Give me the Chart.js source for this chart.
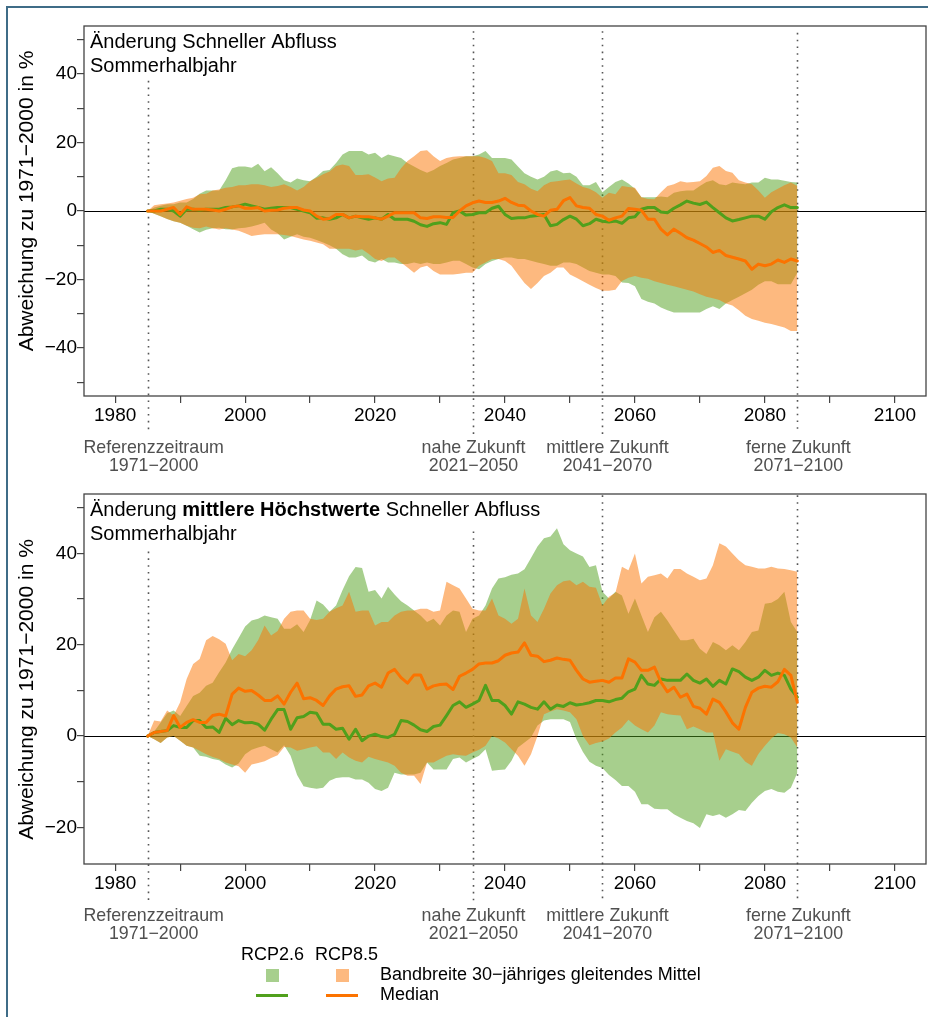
<!DOCTYPE html>
<html lang="de">
<head>
<meta charset="UTF-8">
<title>Änderung Schneller Abfluss – Sommerhalbjahr</title>
<script src="https://cdn.jsdelivr.net/npm/chart.js"></script>
<style>
  body { margin: 0; background: #fff; font-family: 'Liberation Sans', Arial, sans-serif; }
  #page { position: relative; width: 928px; height: 1017px; overflow: hidden; background: #fff; }
  .frame { position: absolute; left: 6px; top: 6px; width: 960px; height: 1060px;
           border-left: 2.5px solid #3f6c87; border-top: 2px solid #3f6c87; }
  canvas { position: absolute; left: 0; }
  #chartTop { top: 0; }
  #chartBottom { top: 480px; }
  .lg { position: absolute; font-size: 18px; line-height: 1; color: #000; white-space: nowrap; }
  .sq { position: absolute; width: 13px; height: 13px; }
  .ln { position: absolute; width: 32px; height: 3px; }
</style>
</head>
<body>
<div id="page">
  <div class="frame"></div>
  <canvas id="chartTop" width="928" height="480"></canvas>
  <canvas id="chartBottom" width="928" height="468"></canvas>

  <div class="lg" style="left:241px; top:945.4px;">RCP2.6</div>
  <div class="lg" style="left:315px; top:945.4px;">RCP8.5</div>
  <div class="sq" style="left:266px; top:969px; background:rgba(80,160,28,0.5);"></div>
  <div class="sq" style="left:336px; top:969px; background:rgba(252,115,0,0.5);"></div>
  <div class="lg" style="left:380px; top:965.4px;">Bandbreite 30−jähriges gleitendes Mittel</div>
  <div class="ln" style="left:256px; top:993.5px; background:#50a01c;"></div>
  <div class="ln" style="left:326px; top:993.5px; background:#fc7300;"></div>
  <div class="lg" style="left:380px; top:985.4px;">Median</div>
</div>

<script>
// ---- data: 30-year moving windows, centre years 1985 .. 2085 ----
const firstYear = 1985;
const lastYear = 2085;

const xTicks = [1980, 1990, 2000, 2010, 2020, 2030, 2040, 2050, 2060, 2070, 2080, 2090, 2100];
const yTicksTop = [-50, -40, -30, -20, -10, 0, 10, 20, 30, 40, 50];
const yTicksBottom = [-20, -10, 0, 10, 20, 30, 40, 50];

const periodYears = [1985, 2035, 2055, 2085];
const periodNames = ['Referenzzeitraum', 'nahe Zukunft', 'mittlere Zukunft', 'ferne Zukunft'];
const periodRanges = ['1971−2000', '2021−2050', '2041−2070', '2071−2100'];

const yTitle = 'Abweichung zu 1971−2000 in %';

// Schneller Abfluss, Sommerhalbjahr
const rcp26LowTop = [0, -0.8, -1.5, -2.3, -3, -3.4, -4.3, -5.3, -6.3, -5.5, -5, -4.9, -5.3, -5.4, -5, -4.9,
  -4.5, -4, -3.4, -5.4, -6.5, -8.3, -7.5, -6.8, -7.5, -7.8, -8.5, -9.2, -10, -11, -12.6, -13.6, -13.6,
  -13, -14.5, -15, -14, -15, -15, -15.5, -15.5, -15, -15.5, -15, -15.5, -15.5, -15, -14.5, -14.5, -15.5,
  -16.5, -17, -15.5, -14.6, -14, -13.6, -13.6, -14, -14, -14.5, -15, -15.5, -16, -16, -15, -15, -15.5,
  -16.5, -17.5, -18, -18.5, -18.5, -19, -20.9, -21, -22, -25.7, -26.5, -27, -28.2, -29, -29.6, -29.6,
  -29.6, -29.6, -29.6, -28.6, -27.8, -28.6, -27, -26, -25, -24, -23, -21.5, -20.5, -20.5, -21.4, -21.4,
  -21.4, -18];
const rcp26HighTop = [0, 1, 1.5, 2, 2, 2.5, 2.5, 3.5, 5, 6, 6, 6, 9, 12.5, 13, 13, 12.6, 13.8, 11.6, 12.8,
  11, 9, 8.3, 9.5, 9, 8.7, 10, 11.7, 12, 14, 16.5, 17.5, 17.5, 17.5, 16.5, 17, 15.5, 16.5, 16, 15.5, 14,
  13, 12, 11.2, 12, 13.1, 14, 15, 15.5, 16, 16, 16.5, 17.5, 15.5, 15.5, 15.5, 15, 13, 11, 10, 9.2, 10,
  11.5, 12, 11, 11.2, 10, 7.5, 7.5, 8.5, 5.5, 7, 8.5, 9.2, 8, 6.5, 4, 4, 4, 4.2, 4, 5.3, 5.8, 6, 6, 7.3,
  8.5, 9, 7.8, 7.5, 8.3, 8, 7.8, 8.3, 8.3, 9.7, 9.2, 9.2, 8.8, 8.5, 8.3];
const rcp26MedTop = [0, 0, 0.5, 0.5, 0, -1.5, 0.5, 0.5, 0.3, 0.5, 0.5, 0.5, 1, 1.2, 1.5, 2, 1.5, 1, 0.5,
  0.8, 1, 1, 1, 0.5, 0, -0.5, -2.1, -2, -2.4, -2, -1, -2, -1.5, -2, -2.4, -2, -2.4, -1, -2.4, -2.4, -2.4,
  -3, -4, -4.5, -3.7, -3.4, -3.9, -0.5, 0, -1.2, -1, -0.5, -0.5, 0.8, 1.4, -1, -2.2, -2, -2, -1.5, -1.3,
  -1, -4.3, -3.9, -2.5, -1.5, -2.4, -4.3, -3.7, -2.4, -3, -3.2, -2.9, -3.6, -2, -1.7, 0.5, 1, 1, -0.3,
  -0.5, 0.8, 1.8, 2.9, 2.3, 1.9, 2.6, 1, -0.5, -2, -2.9, -2.5, -2, -1.5, -1.5, -2.4, -0.2, 1, 1.8, 1, 1];
const rcp85LowTop = [0, -0.8, -1.5, -2.3, -3, -3.4, -4.3, -4.9, -5, -4.5, -5, -5.4, -5, -5.4, -5.8, -6.5,
  -7.3, -7, -6.8, -6.8, -6.8, -7, -7.3, -7.8, -8.3, -8.7, -9.2, -9.7, -11, -11, -11, -11, -11.5, -11.2,
  -12.5, -14, -14.6, -13.6, -13.6, -15, -16.5, -18, -16.5, -16, -17.5, -18.5, -18.5, -18.5, -18.3, -18,
  -18, -16, -15, -14, -14, -14.6, -16, -18.5, -21, -22.8, -21, -19, -18, -16.5, -16.5, -18.5, -19.5,
  -20.5, -21.5, -22.5, -23.3, -23.3, -23, -20.4, -19.5, -19, -19.5, -19.8, -20.5, -21, -21.5, -22, -22.5,
  -23, -23.5, -24.3, -25, -25.5, -26, -27, -27.6, -29, -30.6, -31.5, -32, -32.6, -33, -33.5, -34, -35, -35];
const rcp85HighTop = [0, 1.7, 2, 2.2, 2.5, 3, 3.5, 3.9, 4.9, 5, 6, 6.3, 6.8, 7, 7.5, 7.5, 7.8, 7.8, 7.5,
  7, 7.3, 7.8, 7, 6, 7, 8.7, 9.7, 10.7, 11.5, 13.1, 13.6, 13.1, 10.5, 10.5, 10.7, 9.8, 8.7, 9.5, 9.7,
  12.5, 14.6, 16, 17.5, 17.7, 16, 14.6, 15.5, 15.8, 16, 16, 16, 16, 15.5, 14.6, 11, 11, 10.5, 8.5, 7.8,
  6.5, 5.8, 7.5, 8.5, 8.7, 9, 9.2, 8, 7, 6.5, 5.5, 3.9, 5.3, 4.9, 7.3, 7, 6.8, 4, 3.5, 3.4, 5.5, 7.3,
  7.8, 8.7, 8.3, 8.5, 8.7, 10.2, 12.6, 13.1, 11.7, 11.2, 9, 8.3, 7.8, 6, 3.9, 5.5, 6.5, 7.5, 8.3, 7.3];
const rcp85MedTop = [0, 0, 0, 0.5, 1, -1, 1.2, 0.5, 0.5, 0.5, 0.3, 0, 0.5, 1.2, 1.5, 0.8, 0.8, 1, 0, 0.2,
  0.3, 0.8, 1, 1, 0.3, 0, -1.5, -2.4, -2.2, -1, -1, -2, -1.5, -1.7, -1.7, -2, -2.4, -1.5, -0.5, -0.5,
  -0.5, -0.5, -2, -2.2, -1.7, -1.7, -1.9, -1.9, 0, 1.5, 2.4, 2.9, 2.5, 2.5, 2.9, 3.7, 2.5, 1.7, 1.5, 0,
  -1, -1.5, 0.2, 0.5, 3, 3.9, 1.5, 1, 0.8, -1, -1.5, -2.7, -2, -1.5, 0.7, 0.5, 0.2, -2.4, -2.4, -5.3,
  -7, -5.3, -6.5, -7.8, -8.5, -9.5, -10.5, -12.1, -11.5, -13, -13.5, -14, -14.6, -17, -15.5, -16, -15.5,
  -14.3, -15, -14, -14.6];

// mittlere Höchstwerte Schneller Abfluss, Sommerhalbjahr
const rcp26LowBottom = [0, -0.7, -1.5, -0.3, 0, -1, -2.1, -2.5, -4.3, -4.5, -5, -5.3, -6.2, -6.9, -6, -4,
  -3, -2.5, -2.1, -2.9, -3.6, -2, -4.3, -8.5, -11, -11.3, -11.5, -11.3, -9.8, -9.2, -9, -9, -9.5, -9.5,
  -10.2, -11.6, -12, -11.3, -8, -8.4, -8.4, -8.4, -8, -5.8, -7.3, -7.3, -7.3, -5, -4.7, -5.8, -5, -4.3,
  -2.9, -7.6, -7.4, -7.3, -5.4, -2.5, -1.4, -0.3, 2.3, 3.4, 3.7, 3.7, 3.7, 3.1, -0.7, -3.5, -5.6, -6.5,
  -7, -8.5, -9.6, -10.9, -10.9, -12.2, -14.9, -14.9, -15.9, -16, -16, -17.1, -17.9, -18.6, -19.1, -20.1,
  -17.1, -17.5, -17.1, -17.9, -17.1, -16.2, -16.4, -14.6, -13.1, -12, -11.6, -12.2, -12.4, -11.3, -8];
const rcp26HighBottom = [0, 1, 3, 5, 5.6, 4.4, 6.6, 8.8, 9.5, 11, 11.7, 14, 16.1, 19, 21.5, 24, 25.3,
  25.7, 26.4, 26, 25.7, 23.5, 23.5, 24.5, 22.8, 25.4, 29.7, 28.8, 27.2, 28.6, 32, 35, 37, 36.8, 31.6, 32,
  30.1, 32.7, 31, 29.5, 28.6, 27.5, 26.4, 25, 25.7, 24.2, 26.4, 27.5, 27.2, 22.8, 25.7, 26.4, 28.6, 32.3,
  34.5, 34.8, 35.3, 35.6, 36.5, 39, 41.5, 43.3, 43.7, 45.5, 42, 40.7, 40, 39.3, 37, 37.4, 31.6, 30.1,
  31.6, 30.8, 26.8, 30.1, 26.4, 22.8, 26, 27.2, 25.3, 23.1, 21, 21, 21.3, 19.1, 18, 20.6, 19.9, 18.8,
  19.9, 18.8, 20.6, 22.8, 23.1, 29, 29.2, 30, 31.6, 25, 22.8];
const rcp26MedBottom = [0, 0.8, 1, 1.2, 2.3, 1.9, 1.9, 3.4, 3.4, 1.9, 2, 0.8, 3.9, 2.5, 3.4, 2.9, 3,
  2.6, 1.3, 3.7, 5.8, 5.8, 1.5, 4, 4.3, 5.2, 5, 2.6, 2.6, 1.5, 1.7, -0.7, 1.5, -1, 0, 0.4, -0.1, -0.3,
  0.4, 3.4, 3.2, 2.4, 1.4, 1, 2.1, 2.4, 4.5, 6.7, 7.5, 6.3, 7, 7.8, 11.1, 7.8, 7.8, 6.7, 4.8, 7.5, 7,
  6.3, 5.9, 7.5, 5.9, 6.8, 6.5, 7.3, 6.8, 7, 7.3, 7.8, 7.8, 7.5, 8, 8.3, 9.7, 10.3, 13.3, 11.4, 11.1,
  12.5, 12.2, 12.2, 12.2, 13.6, 12.2, 11.6, 12.5, 10.9, 12.2, 11.4, 14.7, 14.1, 12.9, 12.2, 12.9, 14.4,
  13.3, 13.8, 13.3, 10.3, 8.5];
const rcp85LowBottom = [0, -0.7, -1.5, -0.3, 0, -1, -2.1, -2.5, -3.2, -4, -4.6, -5, -5.8, -6.2, -6.6, -8,
  -6.2, -5.9, -5.5, -4.8, -4.2, -2.4, -2.5, -3.2, -2.9, -2.5, -2.2, -3.6, -3.6, -5, -3.6, -4.7, -5.4,
  -5.8, -4.5, -5, -5.4, -5.8, -6.5, -8, -8.7, -8.7, -10.5, -5.8, -5.8, -5, -4.3, -4, -4.2, -4.3, -3.6,
  -3, -2.1, 0, -0.5, -1.4, -2.9, -4.3, -6.5, -4, 0, 4.8, 5.4, 5.9, 5.6, 5.2, 3.7, 0, -2, -1.5, -1.2,
  -0.5, 0.8, 1.9, 3.6, 2.3, 1.5, 0.8, 2.3, 5.2, 4.8, 4.6, 4.5, 1.5, 2.1, 1.5, 0.8, 0.8, -5.4, -2.9, -3.4,
  -3.9, -5.6, -6.5, -3.9, -2.1, -0.5, 0.7, 0.4, -0.3, -2.5];
const rcp85HighBottom = [0, 3.4, 3.2, 5.6, 4.5, 7.4, 12.5, 15.8, 16.9, 21, 21.9, 21.2, 20.2, 16.6, 18,
  17.5, 18.8, 21, 24.2, 22, 23, 25.7, 27.2, 27.5, 27.5, 25.7, 25.4, 25.7, 27.2, 28, 28.6, 31.6, 27.2,
  27.5, 27.5, 24.2, 25, 25, 26.4, 27.2, 27.5, 27.5, 27.9, 27.9, 27.2, 27.5, 33.8, 33, 32.3, 30.1, 27.9,
  27.5, 27.5, 30.1, 26.4, 25.7, 24.6, 25.7, 32.3, 26.4, 25, 27.9, 31.2, 33, 33.9, 34.1, 33, 33.8, 32.7,
  32.5, 28.6, 30.5, 31.4, 37.1, 36.3, 40, 33.4, 34.9, 35.2, 35.6, 34.5, 36.6, 36.6, 35.6, 34.9, 34.1,
  34.5, 37.4, 42.2, 41.5, 40, 38.5, 37.4, 37.1, 36.7, 36.7, 37.1, 36.7, 36.6, 36.3, 36];
const rcp85MedBottom = [0, 0.8, 1, 1.2, 4.5, 1.9, 3, 3.6, 3, 3, 4.5, 4.8, 4.4, 9.2, 10.5, 9.8, 10, 9,
  7.8, 7.8, 8.8, 7, 9.6, 11.6, 8.2, 8.4, 7.8, 6.7, 8.8, 10.3, 10.8, 11, 8.7, 9, 11, 11.6, 10.7, 13.8,
  14.6, 12.8, 11.6, 13.4, 13.4, 10.3, 11, 11.3, 11.4, 10.2, 13.1, 13.8, 14.6, 15.8, 16, 16, 16.5, 17.7,
  18.2, 18.4, 20.4, 17.7, 17.5, 16.3, 16.6, 17.1, 16.8, 16.6, 14.4, 12.5, 11.8, 12, 12.2, 11.8, 12.7,
  12.7, 16.9, 16.2, 14.4, 14.4, 15.1, 11.8, 9.7, 10.7, 8.5, 9.2, 6.5, 6.1, 4.8, 8.1, 7.4, 5.3, 2.9, 1.5,
  6.3, 9.6, 10.5, 10.9, 10.7, 11.9, 14.6, 13.3, 7.4];

// ---- style ----
const FONT = "'Liberation Sans', Arial, Helvetica, sans-serif";
const GREEN = 'rgb(80,160,28)';
const ORANGE = 'rgb(252,115,0)';
const GREEN_BAND = 'rgba(80,160,28,0.5)';
const ORANGE_BAND = 'rgba(252,115,0,0.5)';
const labelShift = [6, 1, 5, 1];   // small horizontal nudges of the period captions

Chart.defaults.font.family = FONT;

const years = [];
for (let yr = firstYear; yr <= lastYear; yr++) years.push(yr);
const pts = arr => arr.map((v, i) => ({ x: years[i], y: v }));
const fmt = v => (v < 0 ? '−' + Math.abs(v) : String(v));

function annotations(cfg) {
  return {
    id: 'annotations',
    beforeDatasetsDraw(chart) {
      const { ctx, chartArea: a, scales: { x, y } } = chart;
      ctx.save();
      // zero line
      const y0 = Math.round(y.getPixelForValue(0)) + 0.5;
      ctx.strokeStyle = '#000';
      ctx.lineWidth = 1.2;
      ctx.beginPath(); ctx.moveTo(a.left, y0); ctx.lineTo(a.right, y0); ctx.stroke();
      // period centre lines
      ctx.strokeStyle = '#555';
      ctx.lineWidth = 1.6;
      ctx.setLineDash([1.6, 5.2]);
      periodYears.forEach((yr, i) => {
        const px = Math.round(x.getPixelForValue(yr)) + 0.5;
        ctx.beginPath();
        ctx.moveTo(px, y.getPixelForValue(cfg.lineTop[i]));
        ctx.lineTo(px, a.bottom + 38);
        ctx.stroke();
      });
      ctx.restore();
    },
    afterDraw(chart) {
      const { ctx, chartArea: a, scales: { x } } = chart;
      ctx.save();
      // box
      ctx.strokeStyle = '#444';
      ctx.lineWidth = 1.3;
      ctx.strokeRect(a.left, a.top, a.right - a.left, a.bottom - a.top);
      // y axis title
      ctx.save();
      ctx.translate(33, (a.top + a.bottom) / 2 + cfg.yTitleShift);
      ctx.rotate(-Math.PI / 2);
      ctx.fillStyle = '#000';
      ctx.textAlign = 'center';
      ctx.textBaseline = 'alphabetic';
      ctx.font = '21px ' + FONT;
      ctx.fillText(yTitle, 0, 0);
      ctx.restore();
      // panel title
      ctx.fillStyle = '#000';
      ctx.textAlign = 'left';
      ctx.textBaseline = 'alphabetic';
      cfg.title.forEach((segs, i) => {
        let tx = a.left + 6;
        const ty = a.top + 22 + i * 24;
        segs.forEach(seg => {
          ctx.font = (seg.bold ? 'bold ' : '') + '20px ' + FONT;
          ctx.fillText(seg.text, tx, ty);
          tx += ctx.measureText(seg.text).width;
        });
      });
      // period labels
      ctx.fillStyle = '#505050';
      ctx.textAlign = 'center';
      ctx.font = '17.8px ' + FONT;
      periodYears.forEach((yr, i) => {
        const px = x.getPixelForValue(yr) + labelShift[i];
        ctx.fillText(periodNames[i], px, a.bottom + 57);
        ctx.fillText(periodRanges[i], px, a.bottom + 75);
      });
      ctx.restore();
    }
  };
}

function makeChart(id, cfg) {
  const line = { pointRadius: 0, tension: 0, borderCapStyle: 'round', borderJoinStyle: 'round' };
  const axisGrid = { drawOnChartArea: false, drawTicks: true, tickLength: 7, color: '#444', lineWidth: 1.2 };
  return new Chart(document.getElementById(id), {
    type: 'line',
    data: {
      datasets: [
        { ...line, data: pts(cfg.gLow), borderWidth: 0, fill: false, order: 6 },
        { ...line, data: pts(cfg.gHigh), borderWidth: 0, fill: '-1', backgroundColor: GREEN_BAND, order: 5 },
        { ...line, data: pts(cfg.oLow), borderWidth: 0, fill: false, order: 4 },
        { ...line, data: pts(cfg.oHigh), borderWidth: 0, fill: '-1', backgroundColor: ORANGE_BAND, order: 3 },
        { ...line, data: pts(cfg.gMed), borderColor: GREEN, borderWidth: 3, fill: false, order: 2 },
        { ...line, data: pts(cfg.oMed), borderColor: ORANGE, borderWidth: 3, fill: false, order: 1 }
      ]
    },
    options: {
      responsive: false,
      devicePixelRatio: 1,
      animation: false,
      events: [],
      layout: { padding: { top: cfg.padTop, right: 2, bottom: 0, left: 0 } },
      plugins: { legend: { display: false }, tooltip: { enabled: false } },
      scales: {
        x: {
          type: 'linear', min: 1975.2, max: 2104.8,
          afterBuildTicks: s => { s.ticks = xTicks.map(v => ({ value: v })); },
          afterFit: s => { s.height = 84; },
          ticks: { autoSkip: false, maxRotation: 0, padding: 1, color: '#000', font: { size: 19 },
                   callback: v => (v % 20 === 0 ? String(v) : '') },
          grid: axisGrid,
          border: { display: false }
        },
        y: {
          type: 'linear', min: cfg.yMin, max: cfg.yMax,
          afterBuildTicks: s => { s.ticks = cfg.yTicks.map(v => ({ value: v })); },
          afterFit: s => { s.width = 84; },
          ticks: { autoSkip: false, padding: 0, color: '#000', font: { size: 19 },
                   callback: v => (v % 20 === 0 ? fmt(v) : '') },
          grid: axisGrid,
          border: { display: false }
        }
      }
    },
    plugins: [annotations(cfg)]
  });
}

makeChart('chartTop', {
  gLow: rcp26LowTop, gHigh: rcp26HighTop, gMed: rcp26MedTop,
  oLow: rcp85LowTop, oHigh: rcp85HighTop, oMed: rcp85MedTop,
  yMin: -54, yMax: 54, yTicks: yTicksTop, padTop: 26, yTitleShift: -10,
  lineTop: [38, 52.5, 52.5, 52],
  title: [[{ text: 'Änderung Schneller Abfluss' }], [{ text: 'Sommerhalbjahr' }]]
});

makeChart('chartBottom', {
  gLow: rcp26LowBottom, gHigh: rcp26HighBottom, gMed: rcp26MedBottom,
  oLow: rcp85LowBottom, oHigh: rcp85HighBottom, oMed: rcp85MedBottom,
  yMin: -28, yMax: 53, yTicks: yTicksBottom, padTop: 14, yTitleShift: 10.5,
  lineTop: [40.4, 44.8, 52.7, 52.7],
  title: [[{ text: 'Änderung ' }, { text: 'mittlere Höchstwerte', bold: true }, { text: ' Schneller Abfluss' }],
          [{ text: 'Sommerhalbjahr' }]]
});
</script>
</body>
</html>
